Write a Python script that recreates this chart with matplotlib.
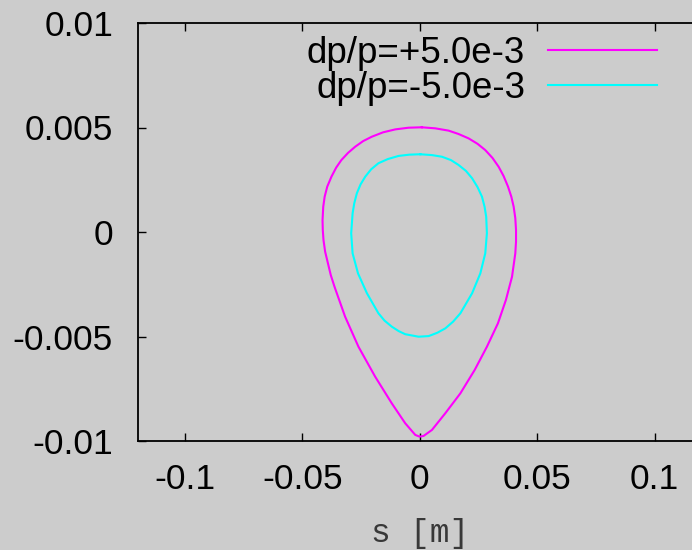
import matplotlib
matplotlib.use("Agg")
import matplotlib.pyplot as plt

# Separatrix contours in (s, dp) phase space for two momentum offsets
s_plus = [0.0009, 0.0066, 0.0123, 0.0165, 0.0208, 0.0246, 0.0279, 0.0310, 0.0336,
          0.0357, 0.0376, 0.0390, 0.0400, 0.0407, 0.0410, 0.0410, 0.0407, 0.0393,
          0.0367, 0.0333, 0.0286, 0.0234, 0.0173, 0.0109, 0.0052, 0.0016, -0.0001,
          -0.0019, -0.0062, -0.0119, -0.0190, -0.0261, -0.0318, -0.0363, -0.0379,
          -0.0391, -0.0403, -0.0410, -0.0413, -0.0414, -0.0411, -0.0405, -0.0394,
          -0.0376, -0.0356, -0.0334, -0.0305, -0.0275, -0.0241, -0.0204, -0.0156,
          -0.0104, -0.0048, 0.0009]
y_plus = [0.00501, 0.00496, 0.00485, 0.00469, 0.00448, 0.00422, 0.00392, 0.00354,
          0.00312, 0.00268, 0.00217, 0.00169, 0.00121, 0.00066, 0.00010, -0.00046,
          -0.00102, -0.00214, -0.00325, -0.00437, -0.00549, -0.00660, -0.00772,
          -0.00867, -0.00947, -0.00976, -0.00979, -0.00971, -0.00915, -0.00820,
          -0.00692, -0.00549, -0.00405, -0.00262, -0.00206, -0.00150, -0.00094,
          -0.00038, 0.00010, 0.00057, 0.00121, 0.00169, 0.00217, 0.00265, 0.00308,
          0.00344, 0.00379, 0.00408, 0.00435, 0.00456, 0.00477, 0.00491, 0.00499,
          0.00501]

s_minus = [0.0002, 0.0052, 0.0095, 0.0133, 0.0165, 0.0197, 0.0223, 0.0246, 0.0265,
           0.0276, 0.0283, 0.0286, 0.0279, 0.0258, 0.0223, 0.0173, 0.0142, 0.0109,
           0.0075, 0.0038, -0.0005, -0.0062, -0.0090, -0.0119, -0.0150, -0.0176,
           -0.0225, -0.0263, -0.0286, -0.0292, -0.0286, -0.0279, -0.0268, -0.0252,
           -0.0232, -0.0207, -0.0176, -0.0136, -0.0090, -0.0045, 0.0002]
y_minus = [0.00372, 0.00368, 0.00360, 0.00344, 0.00321, 0.00292, 0.00257, 0.00215,
           0.00169, 0.00121, 0.00073, -0.00006, -0.00102, -0.00198, -0.00293,
           -0.00389, -0.00429, -0.00461, -0.00482, -0.00498, -0.00501, -0.00489,
           -0.00474, -0.00453, -0.00424, -0.00389, -0.00293, -0.00198, -0.00102,
           -0.00006, 0.00089, 0.00137, 0.00185, 0.00228, 0.00265, 0.00300, 0.00329,
           0.00349, 0.00364, 0.00370, 0.00372]

labels = ["dp/p=+5.0e-3", "dp/p=-5.0e-3"]
x_ticks = [-0.1, -0.05, 0, 0.05, 0.1]
x_tick_labels = ["-0.1", "-0.05", "0", "0.05", "0.1"]
y_ticks = [-0.01, -0.005, 0, 0.005, 0.01]
y_tick_labels = ["-0.01", "-0.005", "0", "0.005", "0.01"]

bg = "#cccccc"
plt.rcParams["font.family"] = ["Liberation Sans", "DejaVu Sans"]

fig = plt.figure(figsize=(6.92, 5.5), dpi=100, facecolor=bg)
ax = fig.add_axes([138 / 692, 109 / 550, (701.5 - 138) / 692, 418 / 550])
ax.set_facecolor(bg)

ax.plot(s_plus, y_plus, color="#ff00ff", lw=1.5, solid_joinstyle="round",
        label=labels[0])
ax.plot(s_minus, y_minus, color="#00ffff", lw=1.5, solid_joinstyle="round",
        label=labels[1])

ax.set_xlim(-0.12, 0.12)
ax.set_ylim(-0.01, 0.01)
ax.set_xticks(x_ticks)
ax.set_xticklabels(x_tick_labels)
ax.set_yticks(y_ticks)
ax.set_yticklabels(y_tick_labels)

for sp in ax.spines.values():
    sp.set_linewidth(1.3)
    sp.set_color("black")
ax.tick_params(direction="in", length=6, width=1, top=True, right=True,
               labelsize=25.5, colors="black")
ax.tick_params(axis="x", pad=16)
ax.tick_params(axis="y", pad=18)

ax.set_xlabel("s [m]", family=["Liberation Mono", "DejaVu Sans Mono"],
              fontsize=23.5, color="#383838", labelpad=16)

leg = ax.legend(loc="upper right", bbox_to_anchor=(657 / 692, 1 - 36 / 550),
                bbox_transform=fig.transFigure, frameon=False, markerfirst=False,
                fontsize=26.5, handlelength=2.96, handletextpad=0.62, borderpad=0,
                borderaxespad=0, labelspacing=0.0)
for t in leg.get_texts():
    t.set_ha("right")

fig.savefig("out.png", dpi=100, facecolor=bg)
